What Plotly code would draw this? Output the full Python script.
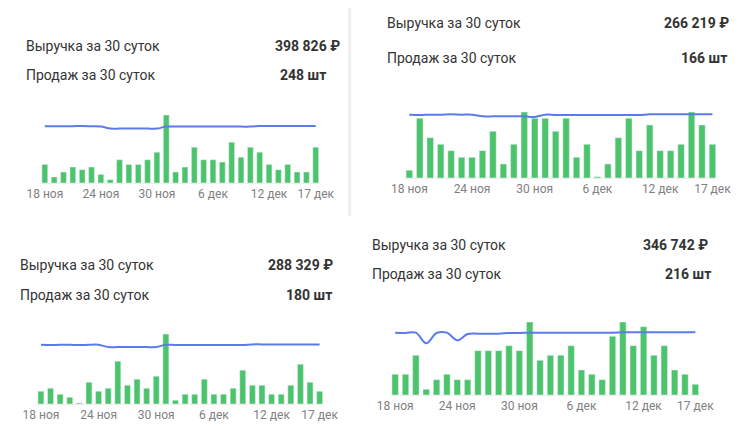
import pandas as pd
import plotly.graph_objects as go

# 30 days: 18 Nov .. 17 Dec
days = [f"{d} ноя" for d in range(18, 31)] + [f"{d} дек" for d in range(1, 18)]
tick_days = ["18 ноя", "24 ноя", "30 ноя", "6 дек", "12 дек", "17 дек"]

sales_1 = [56, 18, 33, 48, 40, 48, 26, 10, 70, 56, 56, 70, 93, 205, 33, 48, 108, 70, 70, 63, 123, 78, 108, 93, 56, 40, 56, 33, 33, 108]
price_1 = [171, 171, 171, 171, 172, 171, 170, 164, 164, 164, 164, 164, 164, 170, 170, 170, 170, 170, 170, 170, 170, 170, 170, 172, 172, 172, 172, 172, 172, 172]
sales_2 = [23, 179, 121, 101, 82, 62, 62, 82, 140, 42, 101, 198, 179, 179, 140, 179, 62, 101, 4, 42, 121, 179, 82, 159, 82, 82, 101, 198, 159, 101]
price_2 = [190, 189, 190, 190, 191, 190, 190, 185, 185, 185, 185, 185, 183, 190, 189, 189, 189, 189, 189, 189, 189, 189, 189, 191, 191, 191, 191, 191, 191, 191]
sales_3 = [38, 47, 29, 20, 3, 65, 38, 47, 128, 56, 74, 47, 83, 209, 11, 29, 29, 74, 29, 29, 47, 101, 56, 56, 29, 29, 56, 119, 65, 38]
price_3 = [177, 176, 177, 177, 176, 177, 177, 170, 170, 170, 170, 170, 170, 177, 176, 176, 176, 176, 176, 176, 176, 176, 178, 178, 178, 178, 178, 178, 178, 178]
sales_4 = [62, 62, 119, 17, 46, 62, 46, 46, 133, 133, 133, 148, 133, 219, 104, 119, 119, 148, 75, 62, 46, 176, 219, 148, 205, 119, 148, 75, 62, 32]
price_4 = [187, 186, 187, 155, 186, 187, 164, 183, 184, 184, 184, 186, 186, 187, 187, 187, 187, 187, 187, 187, 187, 187, 188, 188, 188, 188, 188, 188, 188, 188]

revenue = ["398 826 ₽", "266 219 ₽", "288 329 ₽", "346 742 ₽"]
units = ["248 шт", "166 шт", "180 шт", "216 шт"]

W, H = 753, 429


# correction for how the page is photographed
def px(x):
    return (x - 23) / 0.955 / W


def py(y):
    return 1 - (y - 7) / H


panels = [
    # sales, price, x0, x1, baseline, top, label x, value right, row1 y, row2 y, units right
    (sales_1, price_1, 41, 319, 182, 114, 25, 340, 45, 74, 327),
    (sales_2, price_2, 402, 713, 177, 111, 383, 726, 22, 57, 724),
    (sales_3, price_3, 37, 323, 403, 333, 19, 333, 264, 294, 332),
    (sales_4, price_4, 388, 696, 394, 321, 368, 705, 244, 273, 708),
]

fig = go.Figure()
for i, (s, p, x0, x1, base, top, lx, vx, y1, y2, ux) in enumerate(panels):
    n = "" if i == 0 else str(i + 1)
    fig.add_trace(go.Bar(x=days, y=s, marker_color="#4cc46c", width=0.62,
                         xaxis="x" + n, yaxis="y" + n, showlegend=False))
    fig.add_trace(go.Scatter(x=days, y=p, mode="lines", line=dict(color="#5b7be8", width=2, shape="spline"),
                             xaxis="x" + n, yaxis="y" + n, showlegend=False))
    fig.update_layout({
        "xaxis" + n: dict(domain=[px(x0), px(x1)], anchor="y" + n, type="category",
                          tickmode="array", tickvals=tick_days, ticktext=tick_days,
                          tickfont=dict(size=12, color="#808080"), showgrid=False,
                          showline=True, linecolor="#eeeeee", ticks="", ticklen=0),
        "yaxis" + n: dict(domain=[py(base), py(top)], anchor="x" + n, range=[0, max(s)],
                          visible=False, fixedrange=True),
    })
    for text, x, y, anchor, bold in [
        ("Выручка за 30 суток", lx, y1, "left", False),
        (revenue[i], vx, y1, "right", True),
        ("Продаж за 30 суток", lx, y2, "left", False),
        (units[i], ux, y2, "right", True),
    ]:
        fig.add_annotation(x=px(x), y=py(y), xref="paper", yref="paper", xanchor=anchor,
                           yanchor="middle", showarrow=False,
                           text=f"<b>{text}</b>" if bold else text,
                           font=dict(size=14, color="#333333"))

fig.add_shape(type="line", xref="paper", yref="paper", x0=px(348), x1=px(348), y0=py(215), y1=1,
              line=dict(color="#eeeeee", width=3))
fig.update_layout(width=W, height=H, margin=dict(l=0, r=0, t=0, b=0),
                  paper_bgcolor="white", plot_bgcolor="white", bargap=0.35,
                  font=dict(family="Roboto"))
fig.write_html("out.html")
